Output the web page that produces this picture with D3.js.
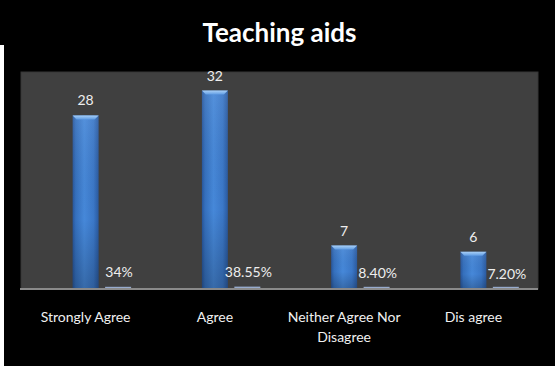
<!DOCTYPE html>
<html><head><meta charset="utf-8">
<script src="https://cdn.jsdelivr.net/npm/d3@7"></script>
<style>html,body{margin:0;padding:0;background:#000;overflow:hidden}</style>
</head><body>
<svg id="c" width="555" height="366"></svg>
<script>
const title = "Teaching aids";
const categories = ["Strongly Agree", "Agree", "Neither Agree Nor Disagree", "Dis agree"];
const counts = [28, 32, 7, 6];
const percents = [0.34, 0.3855, 0.084, 0.072];
const percentLabels = ["34%", "38.55%", "8.40%", "7.20%"];
const seriesSlots = ["blank", "count", "percent"];
const yMax = 35;

const svg = d3.select("#c");
const W = 555, H = 366;
const plot = {left: 21, right: 538, top: 72, bottom: 289};
const FONT = "Lato, 'Open Sans', sans-serif";

svg.append("rect").attr("width", W).attr("height", H).attr("fill", "#000");
svg.append("rect").attr("x", 0).attr("y", 45).attr("width", 4).attr("height", H - 45).attr("fill", "#fff");

const defs = svg.append("defs");
const g1 = defs.append("linearGradient").attr("id", "barH").attr("x1", 0).attr("x2", 1).attr("y1", 0).attr("y2", 0);
[[0, "#28569b"], [0.12, "#3570bd"], [0.45, "#4688d9"], [0.8, "#3b78c8"], [1, "#2a5aa0"]]
  .forEach(([o, c]) => g1.append("stop").attr("offset", o).attr("stop-color", c));
const g2 = defs.append("linearGradient").attr("id", "barV").attr("x1", 0).attr("x2", 0).attr("y1", 0).attr("y2", 1);
[[0, "#ffffff", 0.08], [0.6, "#000000", 0.0], [1, "#000000", 0.22]]
  .forEach(([o, c, a]) => g2.append("stop").attr("offset", o).attr("stop-color", c).attr("stop-opacity", a));
const g3 = defs.append("linearGradient").attr("id", "bevel").attr("x1", 0).attr("x2", 0).attr("y1", 0).attr("y2", 1);
[[0, "#a9d0f7"], [1, "#5e9be3"]].forEach(([o, c]) => g3.append("stop").attr("offset", o).attr("stop-color", c));

// plot area
svg.append("rect").attr("x", plot.left).attr("y", plot.top)
  .attr("width", plot.right - plot.left).attr("height", plot.bottom - plot.top)
  .attr("fill", "#404040").attr("stroke", "#363636").attr("stroke-width", 1);

const x0 = d3.scaleBand().domain(categories).range([plot.left, plot.right]).padding(0);
const x1 = d3.scaleBand().domain(seriesSlots).range([0, x0.bandwidth()]).paddingInner(0.2).paddingOuter(0.59);
const y = d3.scaleLinear().domain([0, yMax]).range([plot.bottom, plot.top]);

// title
const tx = (plot.left + plot.right) / 2;
svg.append("text").attr("x", tx + 1).attr("y", 43)
  .attr("text-anchor", "middle").attr("fill", "#000").attr("font-family", FONT)
  .attr("font-weight", "bold").attr("font-size", 26).text(title);
svg.append("text").attr("x", tx).attr("y", 42)
  .attr("text-anchor", "middle").attr("fill", "#ffffff").attr("font-family", FONT)
  .attr("font-weight", "bold").attr("font-size", 26).text(title);

const data = categories.map((c, i) => ({cat: c, count: counts[i], pct: percents[i], pctLabel: percentLabels[i]}));

// count bars
const bw = x1.bandwidth();
const cb = svg.append("g").selectAll("g").data(data).join("g")
  .attr("transform", d => `translate(${x0(d.cat) + x1("count")},0)`);
cb.append("rect").attr("x", 0).attr("y", d => y(d.count)).attr("width", bw)
  .attr("height", d => y(0) - y(d.count)).attr("fill", "url(#barH)");
cb.append("rect").attr("x", 0).attr("y", d => y(d.count)).attr("width", bw)
  .attr("height", d => y(0) - y(d.count)).attr("fill", "url(#barV)");
cb.append("path").attr("d", d => {
  const t = y(d.count), b = 4;
  return `M0,${t}L${bw},${t}L${bw - b},${t + b}L${b},${t + b}Z`;
}).attr("fill", "url(#bevel)");
cb.append("text").attr("x", bw / 2).attr("y", d => y(d.count) - 10)
  .attr("text-anchor", "middle").attr("fill", "#eeeeee").attr("font-family", FONT)
  .attr("font-size", 14).text(d => d.count);

// percent bars
const pb = svg.append("g").selectAll("g").data(data).join("g")
  .attr("transform", d => `translate(${x0(d.cat) + x1("percent")},0)`);
pb.append("rect").attr("x", 0).attr("y", d => Math.min(y(d.pct), y(0) - 2.2)).attr("width", bw)
  .attr("height", d => Math.max(y(0) - y(d.pct), 2.2)).attr("fill", "#97abcd");
pb.append("text").attr("x", bw / 2 + 1).attr("y", d => y(d.pct) - 10)
  .attr("text-anchor", "middle").attr("fill", "#eeeeee").attr("font-family", FONT)
  .attr("font-size", 14).text(d => d.pctLabel);

// axis line
svg.append("line").attr("x1", plot.left - 1).attr("x2", plot.right).attr("y1", plot.bottom).attr("y2", plot.bottom)
  .attr("stroke", "#8a8a8a").attr("stroke-width", 2);

// category labels with wrapping
const lab = svg.append("g").selectAll("text").data(categories).join("text")
  .attr("x", d => x0(d) + x0.bandwidth() / 2).attr("y", 322)
  .attr("text-anchor", "middle").attr("fill", "#f0f0f0").attr("font-family", FONT).attr("font-size", 14);
lab.each(function(d) {
  const t = d3.select(this);
  const words = d.split(" ");
  let line = [], lines = [];
  const tmp = t.append("tspan");
  words.forEach(w => {
    line.push(w);
    tmp.text(line.join(" "));
    if (tmp.node().getComputedTextLength() > 124 && line.length > 1) {
      line.pop(); lines.push(line.join(" ")); line = [w];
    }
  });
  lines.push(line.join(" "));
  tmp.remove();
  lines.forEach((l, i) => t.append("tspan").attr("x", x0(d) + x0.bandwidth() / 2).attr("dy", i ? 20 : 0).text(l));
});
</script>
</body></html>
